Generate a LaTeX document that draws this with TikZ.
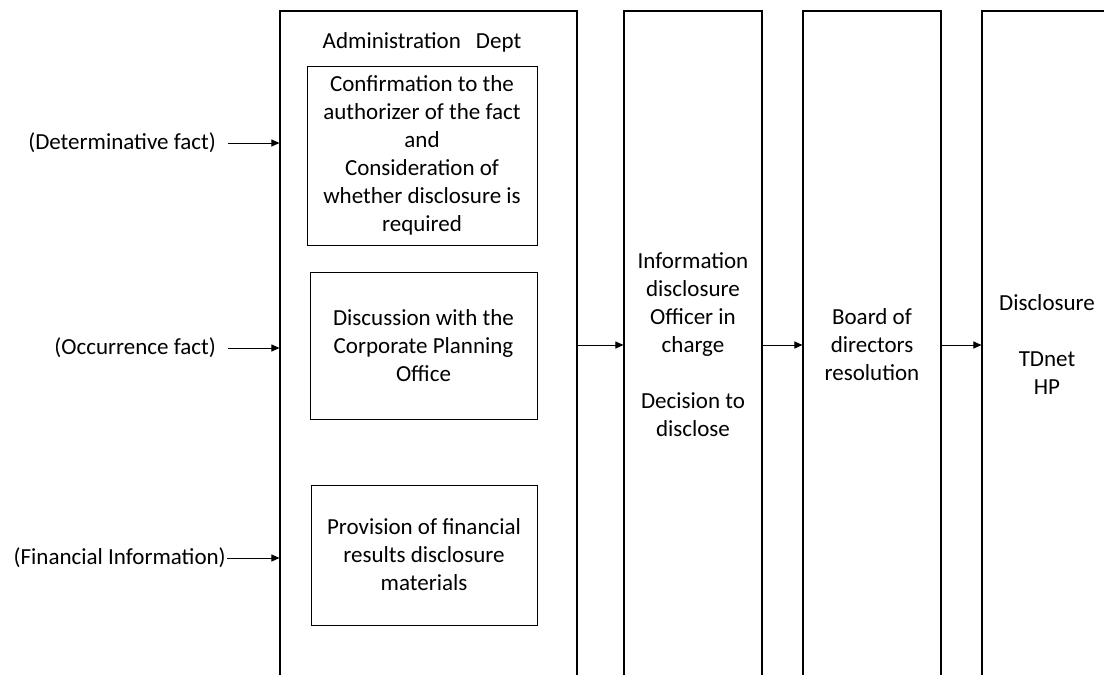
\documentclass[tikz,border=0pt]{standalone}
\usepackage{fontspec}
\setmainfont{Carlito}
\usetikzlibrary{arrows.meta}

\begin{document}
\begin{tikzpicture}[x=1pt,y=-1pt,
  font=\fontsize{23}{28}\selectfont,
  col/.style={draw,line width=1.1pt,minimum height=668pt,inner sep=0pt,align=center},
  task/.style={draw,line width=1pt,inner sep=0pt,align=center},
  arr/.style={-{Triangle[length=8pt,width=7pt]},line width=1pt}]
  \useasboundingbox (0,0) rectangle (1104,675);
  \clip (0,0) rectangle (1104,675);
  \node[col,minimum width=297pt] (admin) at (428.5,345) {};
  \node[col,minimum width=138pt] (info) at (693,345) {Information\\disclosure\\Officer in\\charge\\[28pt]Decision to\\disclose};
  \node[col,minimum width=138pt] (board) at (872,345) {Board of\\directors\\resolution};
  \node[col,minimum width=130pt] (discl) at (1047,345) {Disclosure\\[28pt]TDnet\\HP};
  \node (admintitle) at (422,42) {Administration\hspace{15pt}Dept};
  \node[task,minimum width=230pt,minimum height=179pt] (confirm) at (422,155.5) {Confirmation to the\\authorizer of the fact\\and\\Consideration of\\whether disclosure is\\required};
  \node[task,minimum width=227pt,minimum height=147pt] (discuss) at (423.5,345.5) {Discussion with the\\Corporate Planning\\Office};
  \node[task,minimum width=226pt,minimum height=140pt] (provide) at (424,555) {Provision of financial\\results disclosure\\materials};
  \node[anchor=east,inner sep=0pt] (det) at (216,143) {(Determinative fact)};
  \node[anchor=east,inner sep=0pt] (occ) at (216,348) {(Occurrence fact)};
  \node[anchor=east,inner sep=0pt] (fin) at (226,558) {(Financial Information)};
  \draw[arr] ([xshift=12pt]det.east) -- (det.east -| admin.west);
  \draw[arr] ([xshift=12pt]occ.east) -- (occ.east -| admin.west);
  \draw[arr] ([xshift=1pt]fin.east) -- (fin.east -| admin.west);
  \draw[arr] (admin.east) -- (info.west);
  \draw[arr] (info.east) -- (board.west);
  \draw[arr] (board.east) -- (discl.west);
\end{tikzpicture}
\end{document}
